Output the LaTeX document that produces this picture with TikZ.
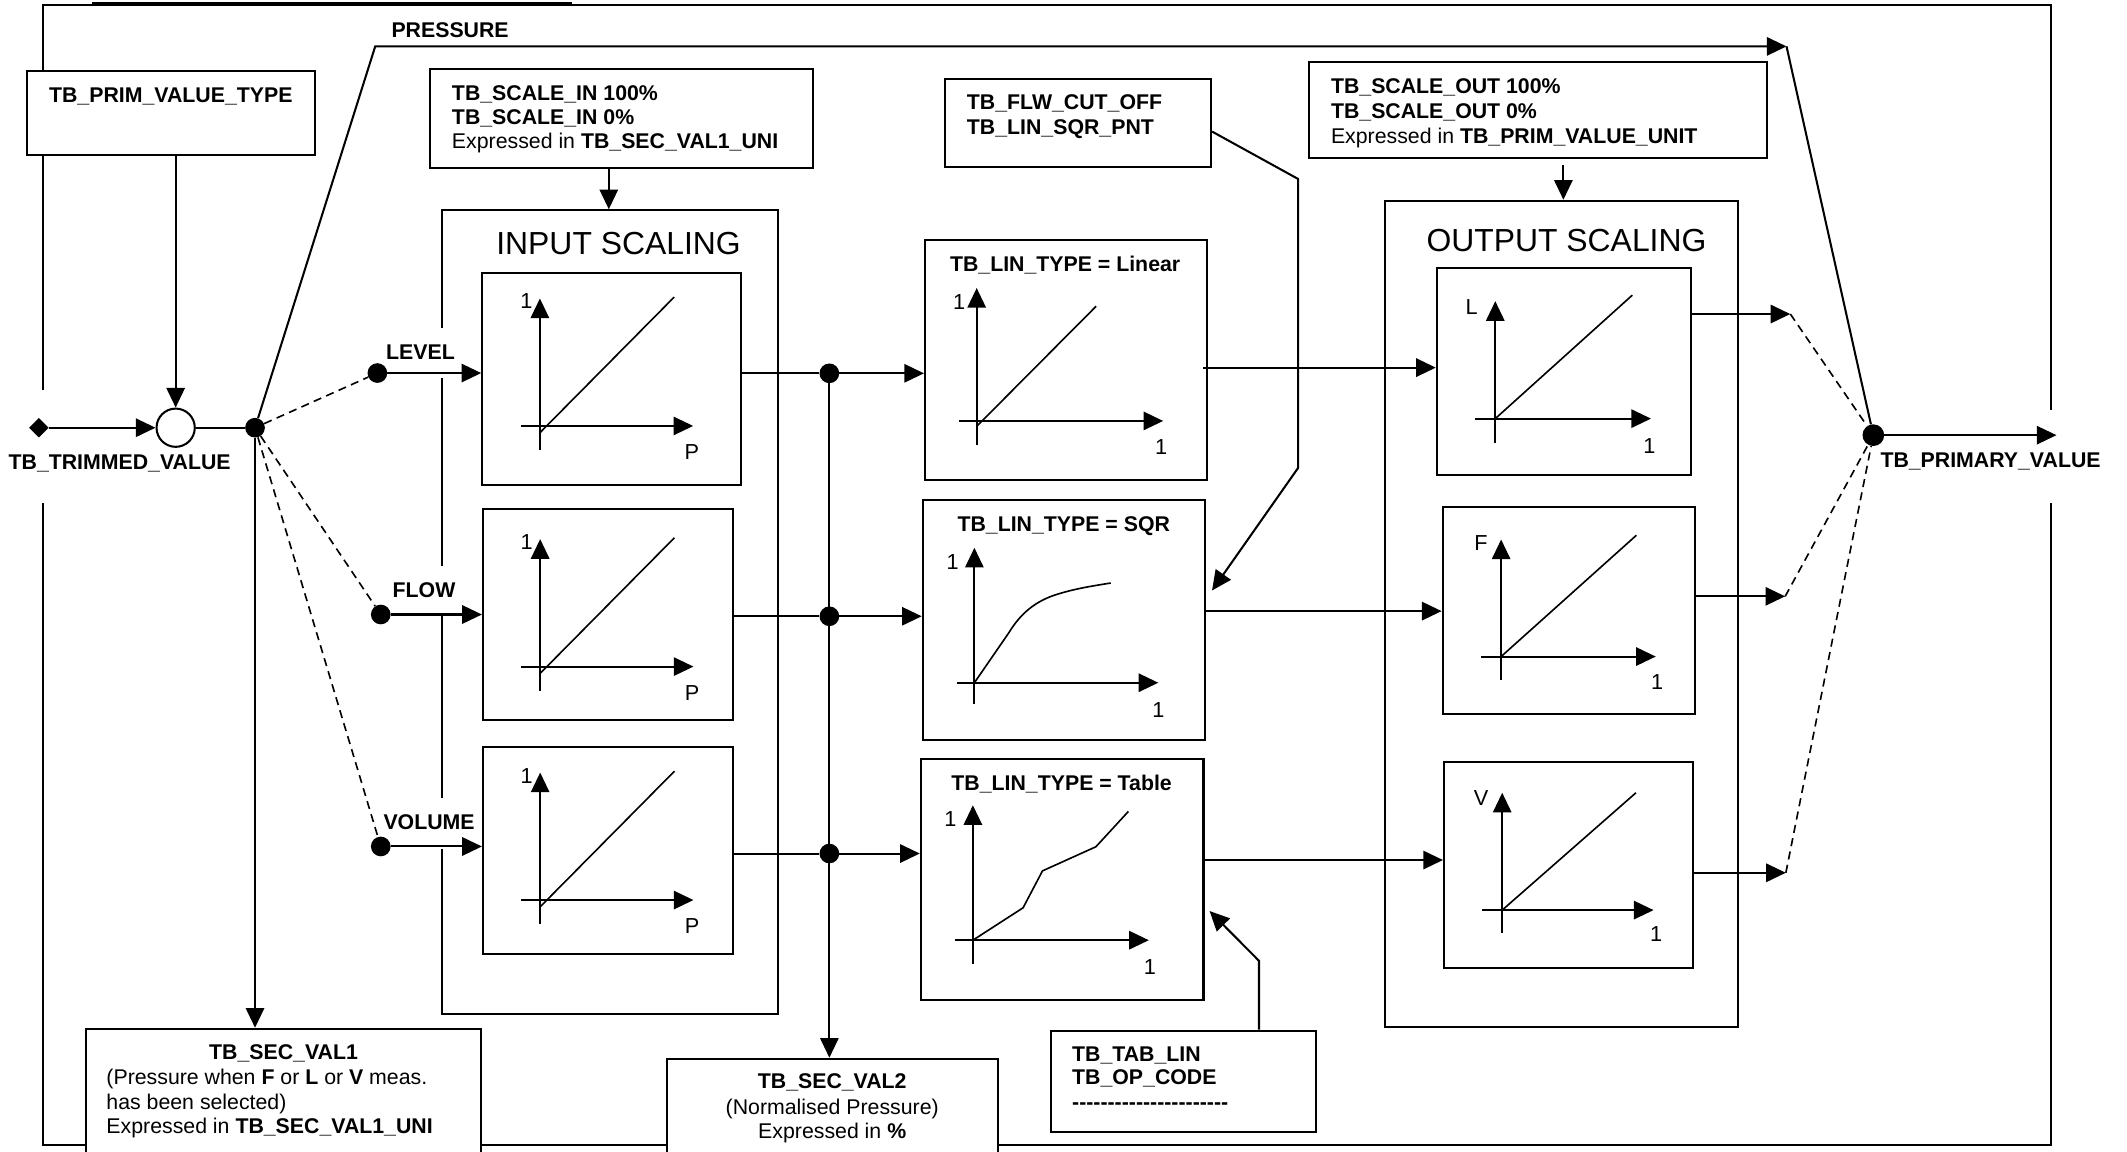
\documentclass[tikz,border=0pt]{standalone}
\usepackage{fontspec}
\setmainfont{Liberation Sans}
\usetikzlibrary{arrows.meta,fit,shapes.geometric}

\newcommand\fsN{\fontsize{15.7pt}{18pt}\selectfont}
\newcommand\fsT{\fontsize{23.5pt}{28pt}\selectfont}
\newcommand\fsA{\fontsize{16pt}{19pt}\selectfont}
\newcommand\hy{-\kern0pt}

\begin{document}
\begin{tikzpicture}[x=1pt,y=-1pt,
  frameline/.style={line width=1.5pt},
  box/.style={draw, line width=1.5pt, fill=white, inner sep=0pt},
  wire/.style={line width=1.5pt},
  arr/.style={wire, -{Triangle[length=14.5pt,width=13.5pt]}},
  axisline/.style={line width=1.5pt, -{Triangle[length=14.5pt,width=13.5pt]}},
  graphline/.style={line width=1.2pt},
  dashwire/.style={line width=1.2pt, dash pattern=on 6pt off 4pt},
  jdot/.style={circle, fill, inner sep=0pt, minimum size=14.5pt},
  txt/.style={inner sep=0pt, text height=11.2pt, text depth=0pt, font=\fsN},
  btxt/.style={txt, font=\fsN\bfseries},
  tag/.style={btxt, fill=white, text height=23pt, text depth=14pt, anchor=base},
  ttl/.style={inner sep=0pt, text height=16.8pt, text depth=0pt, font=\fsT},
  ax/.style={inner sep=0pt, text height=11.5pt, text depth=0pt, font=\fsA},
]
\useasboundingbox (0,0) rectangle (1568,849);
\clip (0,0) rectangle (1568,849);

% ---------- outer frame and heading rule ----------
\draw[line width=2.2pt] (68,2.7) -- (422,2.7);
\draw[frameline] (31.5,287.5) -- (31.5,4) -- (1511.6,4) -- (1511.6,302.5);
\draw[frameline] (1511.6,371) -- (1511.6,843.8) -- (31.5,843.8) -- (31.5,371);

% ---------- parameter boxes ----------
\node[box, fit={(19.7,52.1) (232,114.2)}] (primtype) {};
\node[box, fit={(317.3,51.2) (599.1,123.6)}] (scalein) {};
\node[box, fit={(696.7,58.2) (892.8,122.8)}] (flw) {};
\node[box, fit={(965.2,45.9) (1302.3,116.3)}] (scaleout) {};
\node[box, fit={(63.2,758.4) (354.8,870)}] (secv1) {};
\node[box, fit={(491.7,780.5) (735.9,870)}] (secv2) {};
\node[box, fit={(774.7,759.8) (970,834.4)}] (tablin) {};

% ---------- scaling and linearisation blocks ----------
\node[box, fit={(325.5,155) (573.7,747.3)}] (inscal) {};
\node[box, fit={(355.5,201) (546.2,357.6)}] (inL) {};
\node[box, fit={(356,375.2) (540.2,530.9)}] (inF) {};
\node[box, fit={(356,550.6) (540.2,703.4)}] (inV) {};
\node[box, fit={(681.9,177.1) (890,353.5)}] (linL) {};
\node[box, fit={(680.2,368.5) (888.3,545.8)}] (linS) {};
\node[box, fit={(678.8,559.6) (887.2,737.4)}] (linT) {};
\node[box, fit={(1020.8,148) (1281.4,757.3)}] (outscal) {};
\node[box, fit={(1059.2,197.9) (1246.7,350.5)}] (outL) {};
\node[box, fit={(1063.5,374.1) (1249.8,526.5)}] (outF) {};
\node[box, fit={(1064.5,562) (1248,713.5)}] (outV) {};

% ---------- texts ----------
\node[btxt] (primtypeT) at (125.9,70) {TB\_PRIM\_VALUE\_TYPE};
\node[btxt, anchor=west] (sinA) at (333,68.3) {TB\_SCALE\_IN 100\%};
\node[btxt, anchor=west] (sinB) at (333,86.2) {TB\_SCALE\_IN 0\%};
\node[txt, anchor=west] (sinC) at (333,104.2) {Expressed in \textbf{TB\_SEC\_VAL1\_UNI}};
\node[btxt, anchor=west] (flwA) at (712.6,75) {TB\_FLW\_CUT\_OFF};
\node[btxt, anchor=west] (flwB) at (712.6,93.6) {TB\_LIN\_SQR\_PNT};
\node[btxt, anchor=west] (soutA) at (981,63.4) {TB\_SCALE\_OUT 100\%};
\node[btxt, anchor=west] (soutB) at (981,81.8) {TB\_SCALE\_OUT 0\%};
\node[txt, anchor=west] (soutC) at (981,100.2) {Expressed in \textbf{TB\_PRIM\_VALUE\_UNIT}};
\node[btxt] (sv1A) at (209,775.4) {TB\_SEC\_VAL1};
\node[txt, anchor=west] (sv1B) at (78.3,794.1) {(Pressure when \textbf{F} or \textbf{L} or \textbf{V} meas.};
\node[txt, anchor=west] (sv1C) at (78.3,812.1) {has been selected)};
\node[txt, anchor=west] (sv1D) at (78.3,830.2) {Expressed in \textbf{TB\_SEC\_VAL1\_UNI}};
\node[btxt] (sv2A) at (613.5,797.1) {TB\_SEC\_VAL2};
\node[txt] (sv2B) at (613.5,816.1) {(Normalised Pressure)};
\node[txt] (sv2C) at (613.5,833.8) {Expressed in \textbf{\%}};
\node[btxt, anchor=west] (tabA) at (790.2,776.6) {TB\_TAB\_LIN};
\node[btxt, anchor=west] (tabB) at (790.2,794) {TB\_OP\_CODE};
\node[btxt, anchor=west] (tabC) at (790.2,812) {\hy\hy\hy\hy\hy\hy\hy\hy\hy\hy\hy\hy\hy\hy\hy\hy\hy\hy\hy\hy\hy\hy};
\node[ttl] (inscalT) at (456,179) {INPUT SCALING};
\node[ttl] (outscalT) at (1154.8,177.2) {OUTPUT SCALING};
\node[btxt] (linLT) at (785.2,194.5) {TB\_LIN\_TYPE = Linear};
\node[btxt] (linST) at (784.2,386) {TB\_LIN\_TYPE = SQR};
\node[btxt] (linTT) at (782.6,577) {TB\_LIN\_TYPE = Table};
\node[btxt] (presT) at (331.8,22) {PRESSURE};
\node[btxt] (trimT) at (88.2,340.4) {TB\_TRIMMED\_VALUE};
\node[btxt] (pvT) at (1467.4,339) {TB\_PRIMARY\_VALUE};
\node[tag] (lvlT) at (310,264.8) {LEVEL};
\node[tag] (flowT) at (312.6,440.3) {FLOW};
\node[tag] (volT) at (316.3,611.5) {VOLUME};

% ---------- transfer graphs: input scaling ----------
\foreach \ox/\oy/\nm in {398/314/gL, 398.2/491.4/gF, 398.2/663.5/gV}{
  \begin{scope}[shift={(\ox,\oy)}]
    \draw[axisline] (0,18) -- (0,-94);
    \draw[axisline] (-14,0) -- (113,0);
    \draw[graphline] (0,5) -- (99,-95);
    \node[ax] (\nm one) at (-10,-92) {1};
    \node[ax] (\nm P) at (112,19) {P};
  \end{scope}
}

% ---------- transfer graphs: linearisation ----------
\begin{scope}[shift={(720,310.3)}]
  \draw[axisline] (0,17.6) -- (0,-98);
  \draw[axisline] (-13.3,0) -- (137.5,0);
  \draw[graphline] (0,4) -- (88,-84.5);
  \node[ax] (linLy) at (-13,-88) {1};
  \node[ax] (linLx) at (136,19) {1};
\end{scope}
\begin{scope}[shift={(718.3,503.3)}]
  \draw[axisline] (0,16) -- (0,-99.5);
  \draw[axisline] (-12.6,0) -- (135.6,0);
  \draw[graphline] (0,0) -- (25.3,-36.7) .. controls (34,-51) and (45,-60.5) .. (62,-65.5)
     .. controls (75,-69.5) and (88,-71.5) .. (100.5,-73.5);
  \node[ax] (linSy) at (-16,-89.4) {1};
  \node[ax] (linSx) at (135.6,19.6) {1};
\end{scope}
\begin{scope}[shift={(717.2,693.1)}]
  \draw[axisline] (0,17.4) -- (0,-99.5);
  \draw[axisline] (-13,0) -- (129.7,0);
  \draw[graphline] (0,0) -- (37,-23.9) -- (51.3,-51.1) -- (90.7,-68.9) -- (114.6,-94.9);
  \node[ax] (linTy) at (-16.6,-89.4) {1};
  \node[ax] (linTx) at (130.5,19.8) {1};
\end{scope}

% ---------- transfer graphs: output scaling ----------
\begin{scope}[shift={(1102.3,308.6)}]
  \draw[axisline] (0,18) -- (0,-86.6);
  \draw[axisline] (-14.6,0) -- (114.8,0);
  \draw[graphline] (0,0) -- (101,-91);
  \node[ax] (outLy) at (-17.5,-82.6) {L};
  \node[ax] (outLx) at (113.7,20) {1};
\end{scope}
\begin{scope}[shift={(1106.6,484)}]
  \draw[axisline] (0,17) -- (0,-86.3);
  \draw[axisline] (-14.8,0) -- (114,0);
  \draw[graphline] (0,0) -- (99.7,-89.4);
  \node[ax] (outFy) at (-14.8,-84.3) {F};
  \node[ax] (outFx) at (115,18.4) {1};
\end{scope}
\begin{scope}[shift={(1107.4,670.9)}]
  \draw[axisline] (0,17) -- (0,-86.5);
  \draw[axisline] (-14.6,0) -- (111.6,0);
  \draw[graphline] (0,0) -- (98.6,-86.5);
  \node[ax] (outVy) at (-15.6,-82.5) {V};
  \node[ax] (outVx) at (113.4,17.5) {1};
\end{scope}

% ---------- junctions ----------
\node[diamond, aspect=1, fill, inner sep=0pt, minimum size=14.5pt] (src) at (28.7,315.3) {};
\node[circle, draw, line width=1.5pt, fill=white, inner sep=0pt, minimum size=28.2pt] (mix) at (129.5,315.3) {};
\node[jdot] (jIn) at (188,315.3) {};
\node[jdot] (jL) at (278.2,275) {};
\node[jdot] (jF) at (280.7,453) {};
\node[jdot] (jV) at (280.7,624) {};
\node[jdot] (kL) at (611.4,275.2) {};
\node[jdot] (kF) at (611.4,454.3) {};
\node[jdot] (kV) at (611.4,629.2) {};
\node[jdot, minimum size=16pt] (jOut) at (1381,320.8) {};

\coordinate (pBend) at (276.6,34.2);
\coordinate (pEnd) at (1317,34.2);
\coordinate (soA) at (1152.5,121.6);
\coordinate (fk1) at (956.9,131.9);
\coordinate (fk2) at (956.9,345);
\coordinate (fkTip) at (893.5,435.3);
\coordinate (tk1) at (928.1,708.3);
\coordinate (tkTip) at (891.7,671.6);
\coordinate (yLin) at (0,271);
\coordinate (ySqr) at (0,450.5);
\coordinate (yTab) at (0,634);
\coordinate (tL) at (1319.8,231.5);
\coordinate (tF) at (1316,439.6);
\coordinate (tV) at (1316.5,643.4);
\coordinate (pvEnd) at (1516,320.8);

% ---------- connectors ----------
\draw[arr] (src) -- (mix);
\draw[arr] (primtype.south -| mix) -- (mix);
\draw[wire] (mix) -- (jIn);
\draw[arr] (jIn) -- (pBend) -- (pEnd);
\draw[wire] (pEnd) -- (jOut);
\draw[dashwire] (jIn) -- (jL);
\draw[dashwire] (jIn) -- (jF);
\draw[dashwire] (jIn) -- (jV);
\draw[arr] (jIn) -- (jIn |- secv1.north);

\draw[arr] (jL) -- (jL -| inL.west);
\draw[arr] (jF) -- (jF -| inF.west);
\draw[arr] (jV) -- (jV -| inV.west);

\draw[arr] (scalein.south -| 448.8,0) -- (inscal.north -| 448.8,0);
\draw[arr] (soA) -- (outscal.north -| soA);

\draw[wire] (inL.east |- kL) -- (kL);
\draw[wire] (inF.east |- kF) -- (kF);
\draw[wire] (inV.east |- kV) -- (kV);
\draw[arr] (kL) -- (kL -| linL.west);
\draw[arr] (kF) -- (kF -| linS.west);
\draw[arr] (kV) -- (kV -| linT.west);
\draw[arr] (kL) -- (kL |- secv2.north);

\draw[arr] (flw.east |- 0,97) -- (fk1) -- (fk2) -- (fkTip);
\draw[arr] (tablin.north -| tk1) -- (tk1) -- (tkTip);

\draw[arr] ([xshift=-3.6pt]linL.east |- yLin) -- (outL.west |- yLin);
\draw[arr] (linS.east |- ySqr) -- (outF.west |- ySqr);
\draw[arr] (linT.east |- yTab) -- (outV.west |- yTab);

\draw[arr] (outL.east |- tL) -- (tL);
\draw[arr] (outF.east |- tF) -- (tF);
\draw[arr] (outV.east |- tV) -- (tV);
\draw[dashwire] (tL) -- (jOut);
\draw[dashwire] (tF) -- (jOut);
\draw[dashwire] (tV) -- (jOut);
\draw[arr] (jOut) -- (pvEnd);
\end{tikzpicture}
\end{document}
